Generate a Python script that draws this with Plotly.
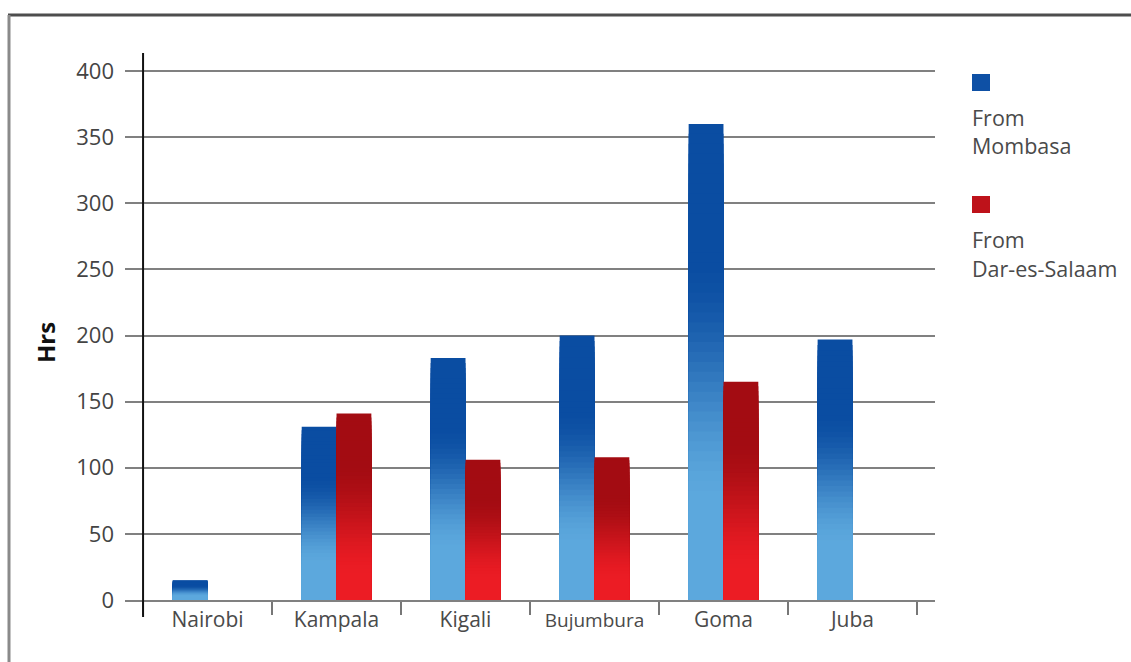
import plotly.graph_objects as go

# Travel time (hours) to each destination from the two ports
cities = ["Nairobi", "Kampala", "Kigali", "Bujumbura", "Goma", "Juba"]
city_labels = ["Nairobi", "Kampala", "Kigali",
               "<span style='font-size:19px'>Bujumbura</span>", "Goma", "Juba"]
from_mombasa = [15, 131, 183, 200, 360, 197]
from_dar = [None, 141, 106, 108, 165, None]

y_ticks = [0, 50, 100, 150, 200, 250, 300, 350, 400]

# Figure geometry (pixels)
W, H = 1131, 662
L, R, T, B = 125, 196, 54, 62
PW, PH = W - L - R, H - T - B


def px_x(p):
    return (p - L) / PW


def px_y(p):
    return (H - B - p) / PH


def mix(c_low, c_high, t, lo, hi):
    s = min(max((t - lo) / (hi - lo), 0.0), 1.0)
    s = s * s * (3 - 2 * s)
    return "rgb({},{},{})".format(*[round(a + (b - a) * s) for a, b in zip(c_low, c_high)])


BLUE_LIGHT, BLUE_DARK = (92, 168, 221), (10, 77, 162)
RED_LIGHT, RED_DARK = (236, 28, 36), (163, 12, 18)

fig = go.Figure()

# Gradient bars: nested bars of decreasing height, each painted over the last
N = 48
series = [
    (from_mombasa, -0.27, BLUE_LIGHT, BLUE_DARK, 0.20, 0.72),
    (from_dar, 0.0, RED_LIGHT, RED_DARK, 0.12, 0.74),
]
for values, offset, c_low, c_high, lo, hi in series:
    xs = [c for c, v in zip(cities, values) if v is not None]
    vs = [v for v in values if v is not None]
    for k in range(N):
        frac = (N - k) / N
        t_mid = (N - k - 0.5) / N
        fig.add_trace(go.Bar(
            x=xs,
            y=[v * frac for v in vs],
            offset=offset,
            width=0.27,
            marker=dict(color=mix(c_low, c_high, t_mid, lo, hi), line=dict(width=0)),
            showlegend=False,
            hoverinfo="skip" if k else "x+y",
        ))

grid_col = "#808080"
fig.update_layout(
    width=W, height=H,
    margin=dict(l=L, r=R, t=T, b=B, pad=0),
    paper_bgcolor="white",
    plot_bgcolor="white",
    barmode="overlay",
    font=dict(family="Open Sans", color="#4a4a4a"),
    xaxis=dict(
        type="category",
        categoryorder="array",
        categoryarray=cities,
        tickmode="array",
        tickvals=cities,
        ticktext=city_labels,
        tickson="boundaries",
        range=[-0.64, 5.64],
        ticks="outside",
        ticklen=13,
        tickwidth=2,
        tickcolor="#777777",
        tickfont=dict(size=21, color="#4a4a4a"),
        showgrid=False,
        showline=True,
        linecolor=grid_col,
        linewidth=2,
        zeroline=False,
        fixedrange=True,
    ),
    yaxis=dict(
        range=[0, 400 * PH / 529],
        tickmode="array",
        tickvals=y_ticks,
        ticktext=[str(v) for v in y_ticks],
        tickfont=dict(size=22, color="#444444"),
        ticklabelstandoff=10,
        showgrid=True,
        gridcolor=grid_col,
        gridwidth=2,
        zeroline=False,
        showline=False,
        fixedrange=True,
    ),
)

# Outer frame (top and left edges)
fig.add_shape(type="line", xref="paper", yref="paper",
              x0=px_x(8), x1=px_x(1140), y0=px_y(15), y1=px_y(15),
              line=dict(color="#4d4d4d", width=3))
fig.add_shape(type="line", xref="paper", yref="paper",
              x0=px_x(9), x1=px_x(9), y0=px_y(15), y1=px_y(680),
              line=dict(color="#8a8a8a", width=3))

# Vertical value axis line
fig.add_shape(type="line", xref="x", yref="paper",
              x0=-0.5, x1=-0.5, y0=px_y(617), y1=px_y(53),
              line=dict(color="#111111", width=2), layer="above")

# Axis title
fig.add_annotation(text="<b>Hrs</b>", xref="paper", yref="paper",
                   x=px_x(45), y=px_y(343), xanchor="center", yanchor="middle",
                   textangle=-90, showarrow=False,
                   font=dict(size=24, color="#111111"))

# Legend: swatch above a two-line label
legend_items = [
    ("rgb(14,80,165)", "From", "Mombasa", 74),
    ("rgb(190,18,26)", "From", "Dar-es-Salaam", 196),
]
for color, line1, line2, top in legend_items:
    fig.add_shape(type="rect", xref="paper", yref="paper",
                  x0=px_x(972), x1=px_x(990), y0=px_y(top + 17), y1=px_y(top),
                  fillcolor=color, line=dict(width=0))
    for txt, cy in ((line1, top + 43), (line2, top + 72)):
        fig.add_annotation(text=txt, xref="paper", yref="paper",
                           x=px_x(970), y=px_y(cy), xanchor="left", yanchor="middle",
                           showarrow=False, font=dict(size=21.5, color="#4a4a4a"))

fig.write_html("out.html")
